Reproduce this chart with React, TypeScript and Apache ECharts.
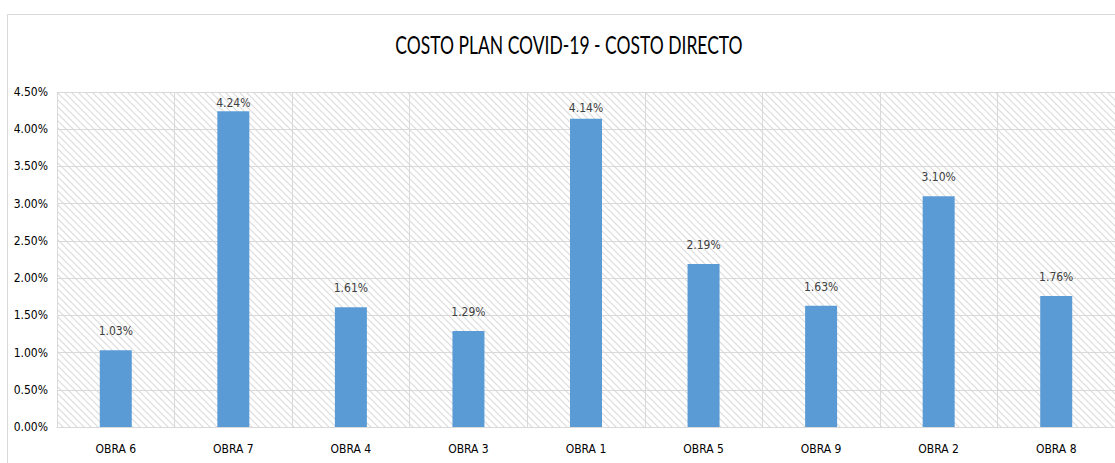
import React, { useEffect, useRef } from "react";
import * as echarts from "echarts";

const categories = ["OBRA 6", "OBRA 7", "OBRA 4", "OBRA 3", "OBRA 1", "OBRA 5", "OBRA 9", "OBRA 2", "OBRA 8"];
const values = [1.03, 4.24, 1.61, 1.29, 4.14, 2.19, 1.63, 3.1, 1.76];
const titleText = "COSTO PLAN COVID-19 - COSTO DIRECTO";
const FONT = "'DejaVu Sans Condensed', Lato, sans-serif";
const TFONT = "Lato, sans-serif";

function makeHatch(): HTMLCanvasElement {
  const n = 7;
  const c = document.createElement("canvas");
  c.width = n;
  c.height = n;
  const ctx = c.getContext("2d")!;
  ctx.fillStyle = "#ffffff";
  ctx.fillRect(0, 0, n, n);
  ctx.strokeStyle = "#dcdcdc";
  ctx.lineWidth = 1.2;
  ctx.beginPath();
  for (const o of [-n, 0, n]) {
    ctx.moveTo(o - 1, -1);
    ctx.lineTo(o + n + 1, n + 1);
  }
  ctx.stroke();
  return c;
}

export default function App() {
  const ref = useRef<HTMLDivElement>(null);
  useEffect(() => {
    const chart = echarts.init(ref.current!, undefined, { renderer: "svg" });
    const hatch = makeHatch();
    // Excel pulls labels down for bars close to the top of the plot area
    const labelDist = (v: number) => (v > 4.2 ? 2 : v > 4 ? 5 : 13);
    chart.setOption({
      animation: false,
      backgroundColor: "#ffffff",
      graphic: [
        {
          type: "rect",
          shape: { x: 7.5, y: 14.5, width: 1200, height: 600 },
          style: { fill: "none", stroke: "#d9d9d9", lineWidth: 1 },
          silent: true,
          z: -10,
        },
        {
          type: "text",
          x: 569,
          y: 45,
          scaleX: 0.7,
          style: {
            text: titleText,
            fontFamily: TFONT,
            fontSize: 25,
            fill: "#000000",
            align: "center",
            verticalAlign: "middle",
          },
        },
      ],
      grid: {
        left: 57,
        right: 0,
        top: 92,
        bottom: 36,
        show: true,
        borderWidth: 0,
        backgroundColor: { image: hatch, repeat: "repeat", imageWidth: 7, imageHeight: 7 },
      },
      xAxis: {
        type: "category",
        data: categories,
        axisLine: { lineStyle: { color: "#d9d9d9" } },
        axisTick: { show: false },
        splitLine: { show: true, lineStyle: { color: "#d9d9d9" } },
        axisLabel: { fontFamily: FONT, fontSize: 12, color: "#000000", margin: 16 },
      },
      yAxis: {
        type: "value",
        min: 0,
        max: 4.5,
        interval: 0.5,
        axisLine: { show: false },
        axisTick: { show: false },
        splitLine: { lineStyle: { color: "#d9d9d9" } },
        axisLabel: {
          fontFamily: FONT,
          fontSize: 12,
          color: "#000000",
          margin: 9,
          formatter: (v: number) => v.toFixed(2) + "%",
        },
      },
      series: [
        {
          type: "bar",
          data: values.map((v) => ({ value: v, label: { distance: labelDist(v) } })),
          barWidth: 32,
          itemStyle: { color: "#5b9bd5" },
          label: {
            show: true,
            position: "top",
            fontFamily: FONT,
            fontSize: 12,
            color: "#404040",
            formatter: (p: any) => Number(p.value).toFixed(2) + "%",
          },
        },
      ],
    });
    return () => chart.dispose();
  }, []);
  return (
    <div
      ref={ref}
      style={{ position: "fixed", left: 0, top: 0, width: 1115, height: 463 }}
    />
  );
}
